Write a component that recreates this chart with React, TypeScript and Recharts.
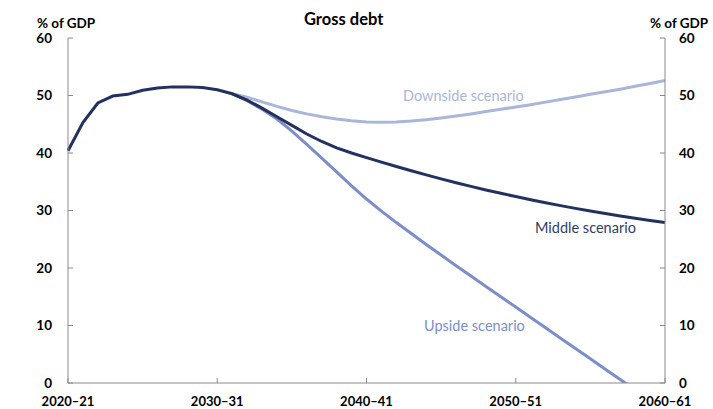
import React from 'react';
import { LineChart, Line, XAxis, YAxis } from 'recharts';

const startYear = 2020;
const years = Array.from({ length: 41 }, (_, i) => {
    const y = startYear + i;
    return `${y}–${String((y + 1) % 100).padStart(2, '0')}`;
});

const middle = [
    40.4, 45.3, 48.7, 49.9, 50.2, 50.9, 51.3, 51.5, 51.5, 51.4, 51.0,
    50.3, 49.2, 47.8, 46.3, 44.8, 43.3, 42.0, 40.9, 40.0, 39.2,
    38.42, 37.66, 36.92, 36.2, 35.5, 34.83, 34.19, 33.58, 32.99, 32.42,
    31.87, 31.35, 30.85, 30.37, 29.91, 29.47, 29.05, 28.65, 28.27, 27.91,
];

const downside = [
    null, null, null, null, null, null, null, null, null, null, null,
    50.3, 49.7, 48.9, 48.1, 47.4, 46.8, 46.3, 45.9, 45.6, 45.4,
    45.35, 45.4, 45.55, 45.8, 46.1, 46.45, 46.8, 47.2, 47.6, 48.0,
    48.4, 48.85, 49.3, 49.75, 50.2, 50.65, 51.1, 51.6, 52.1, 52.6,
];

const upside = [
    null, null, null, null, null, null, null, null, null, null, null,
    50.3, 49.1, 47.6, 45.9, 43.8, 41.5, 39.1, 36.7, 34.3, 32.0,
    29.9, 27.9, 26.0, 24.1, 22.25, 20.4, 18.6, 16.8, 15.0, 13.2,
    11.4, 9.6, 7.8, 6.0, 4.2, 2.4, 0.6, -1.2, -3.0, -4.8,
];

const yTicks = [0, 10, 20, 30, 40, 50, 60];

const data = years.map((year, i) => ({
    year,
    middle: middle[i],
    downside: downside[i],
    upside: upside[i],
}));

const FONT = 'Lato, "Open Sans", sans-serif';
const NAVY = '#233160';
const UPSIDE = '#7c8ec9';
const DOWNSIDE = '#a9b6da';
const AXIS = '#8a8a8a';

const tickStyle = { fontFamily: FONT, fontSize: 13.5, fontWeight: 700, fill: '#000' };

const txt = (left: number, top: number, color: string, size: number, bold: boolean): React.CSSProperties => ({
    position: 'absolute',
    left,
    top,
    color,
    fontSize: size,
    fontWeight: bold ? 700 : 400,
    fontFamily: FONT,
    whiteSpace: 'nowrap',
    lineHeight: 1,
});

const App: React.FC = () => {
    return (
        <div style={{ position: 'absolute', left: 0, top: 0, width: 713, height: 409, background: '#fff' }}>
            <LineChart
                width={713}
                height={409}
                data={data}
                margin={{ top: 38, right: 8, bottom: 2, left: 28 }}
            >
                <XAxis
                    dataKey="year"
                    interval={9}
                    height={24}
                    tickSize={-5}
                    tickMargin={19}
                    stroke={AXIS}
                    tick={{ ...tickStyle, fontSize: 13 }}
                />
                <YAxis
                    yAxisId="left"
                    orientation="left"
                    width={40}
                    domain={[0, 60]}
                    ticks={yTicks}
                    allowDataOverflow
                    tickSize={-5}
                    tickMargin={21}
                    stroke={AXIS}
                    tick={tickStyle}
                />
                <YAxis
                    yAxisId="right"
                    orientation="right"
                    width={40}
                    domain={[0, 60]}
                    ticks={yTicks}
                    allowDataOverflow
                    tickSize={-5}
                    tickMargin={19}
                    stroke={AXIS}
                    tick={{ ...tickStyle, textAnchor: 'start' }}
                />
                <Line yAxisId="left" dataKey="downside" stroke={DOWNSIDE} strokeWidth={3} dot={false} type="linear" isAnimationActive={false} />
                <Line yAxisId="left" dataKey="upside" stroke={UPSIDE} strokeWidth={3} dot={false} type="linear" isAnimationActive={false} />
                <Line yAxisId="left" dataKey="middle" stroke={NAVY} strokeWidth={3} dot={false} type="linear" isAnimationActive={false} />
            </LineChart>
            <div style={txt(304, 11, '#000', 16.5, true)}>Gross debt</div>
            <div style={txt(37, 17, '#000', 13.5, true)}>% of GDP</div>
            <div style={txt(650, 17, '#000', 13.5, true)}>% of GDP</div>
            <div style={txt(403, 89, DOWNSIDE, 14.5, false)}>Downside scenario</div>
            <div style={txt(535, 221, '#2f3d6b', 14.5, false)}>Middle scenario</div>
            <div style={txt(424, 319, UPSIDE, 14.5, false)}>Upside scenario</div>
        </div>
    );
};

export default App;
